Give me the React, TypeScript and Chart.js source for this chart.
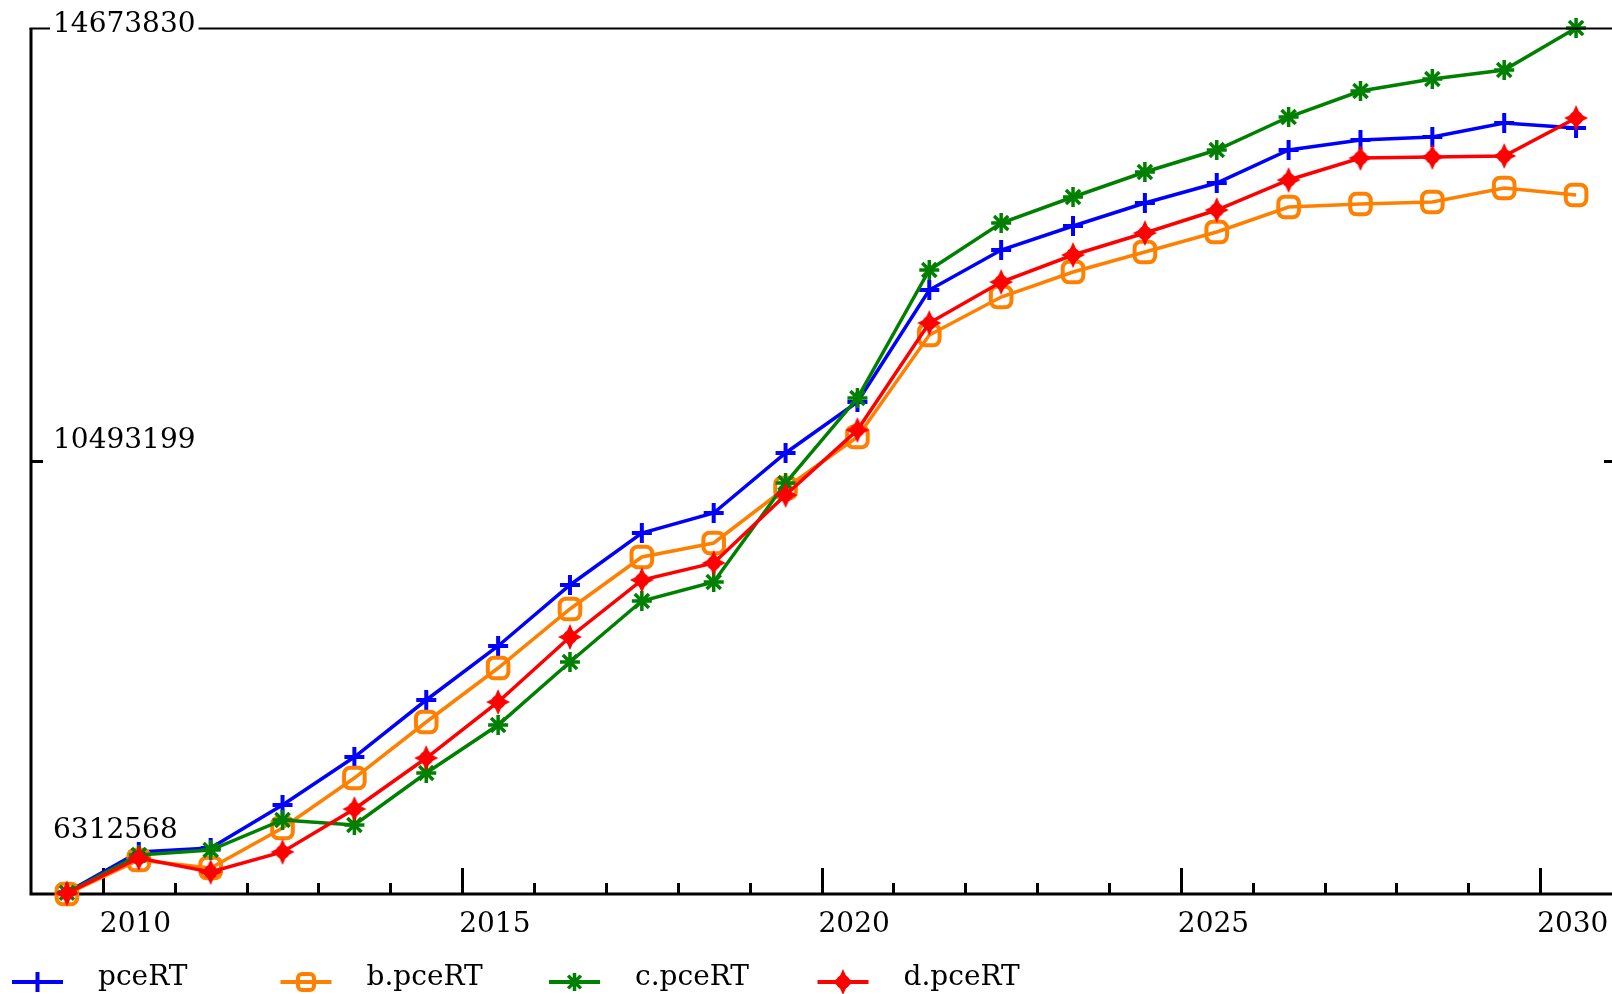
import React, { useEffect, useRef } from "react";
import { Chart, registerables } from "chart.js";

Chart.register(...registerables);

const years = [2009, 2010, 2011, 2012, 2013, 2014, 2015, 2016, 2017, 2018, 2019, 2020, 2021, 2022, 2023, 2024, 2025, 2026, 2027, 2028, 2029, 2030];

const pceRT = [6330000, 6718000, 6756700, 7171900, 7635300, 8185600, 8707000, 9296000, 9798000, 9991100, 10570400, 11062800, 12144200, 12530400, 12762100, 12984200, 13177300, 13495900, 13592400, 13621400, 13756600, 13708300];
const bPceRT = [6312568, 6640800, 6563600, 6949800, 7432500, 7973200, 8494600, 9064200, 9566300, 9701500, 10232500, 10724900, 11709700, 12076600, 12318000, 12511100, 12704200, 12945600, 12974500, 12993800, 13129000, 13061400];
const cPceRT = [6325000, 6689100, 6737400, 7027000, 6978800, 7480800, 7944300, 8552500, 9141500, 9324900, 10280800, 11101400, 12337300, 12791100, 13042100, 13283500, 13495900, 13814500, 14065500, 14181400, 14268300, 14673830];
const dPceRT = [6318000, 6660100, 6525000, 6718100, 7133200, 7625600, 8166300, 8793900, 9344200, 9508400, 10164900, 10792500, 11825600, 12221400, 12482100, 12694500, 12916600, 13206200, 13418600, 13428300, 13438000, 13804800];

const seriesNames = ["pceRT", "b.pceRT", "c.pceRT", "d.pceRT"];
const seriesColors = ["#0000ff", "#ff8000", "#008000", "#ff0000"];

const yTickValues = [6312568, 10493199, 14673830];
const yTickLabels = ["6312568", "10493199", "14673830"];
const xMajorTicks = [2010, 2015, 2020, 2025, 2030];
const xMin = 2009;
const xMax = 2031;

const FONT = '28px "DejaVu Serif"';

function makeRedMarker(): HTMLCanvasElement {
  const c = document.createElement("canvas");
  c.width = 26;
  c.height = 28;
  const g = c.getContext("2d")!;
  g.fillStyle = "#ff0000";
  g.translate(13, 14);
  g.beginPath();
  g.moveTo(0, -13);
  g.lineTo(4, -4);
  g.lineTo(12, 0);
  g.lineTo(4, 4);
  g.lineTo(0, 13);
  g.lineTo(-4, 4);
  g.lineTo(-12, 0);
  g.lineTo(-4, -4);
  g.closePath();
  g.fill();
  g.beginPath();
  g.arc(0, 0, 7, 0, Math.PI * 2);
  g.fill();
  return c;
}

function drawLegendMarker(ctx: CanvasRenderingContext2D, i: number, x: number, y: number, redImg: HTMLCanvasElement) {
  ctx.save();
  ctx.strokeStyle = seriesColors[i];
  ctx.fillStyle = seriesColors[i];
  if (i === 0) {
    ctx.lineWidth = 4;
    ctx.beginPath();
    ctx.moveTo(x - 9, y);
    ctx.lineTo(x + 9, y);
    ctx.moveTo(x, y - 10);
    ctx.lineTo(x, y + 10);
    ctx.stroke();
  } else if (i === 1) {
    ctx.lineWidth = 4;
    ctx.beginPath();
    (ctx as any).roundRect ? (ctx as any).roundRect(x - 8, y - 8, 16, 16, 4) : ctx.rect(x - 8, y - 8, 16, 16);
    ctx.stroke();
  } else if (i === 2) {
    ctx.lineWidth = 3.5;
    ctx.beginPath();
    const r = 9;
    ctx.moveTo(x - r, y);
    ctx.lineTo(x + r, y);
    ctx.moveTo(x, y - r);
    ctx.lineTo(x, y + r);
    const d = r * Math.SQRT1_2;
    ctx.moveTo(x - d, y - d);
    ctx.lineTo(x + d, y + d);
    ctx.moveTo(x - d, y + d);
    ctx.lineTo(x + d, y - d);
    ctx.stroke();
  } else {
    ctx.drawImage(redImg, x - redImg.width / 2, y - redImg.height / 2);
  }
  ctx.restore();
}

export default function App() {
  const ref = useRef<HTMLCanvasElement | null>(null);

  useEffect(() => {
    document.body.style.margin = "0";
    document.body.style.overflow = "hidden";
    const canvas = ref.current!;
    const redImg = makeRedMarker();

    const allSeries = [pceRT, bPceRT, cPceRT, dPceRT];
    const pointStyles: any[] = ["cross", "rectRounded", "star", redImg];
    const radii = [10, 12, 10, 10];
    const pbw = [4, 4, 3.5, 1];
    const orders = [4, 3, 2, 1];

    const datasets = allSeries.map((vals, i) => ({
      label: seriesNames[i],
      data: years.map((yr, k) => ({ x: yr + 0.5, y: vals[k] })),
      borderColor: seriesColors[i],
      backgroundColor: i === 1 ? "rgba(0,0,0,0)" : seriesColors[i],
      borderWidth: 3.5,
      pointStyle: pointStyles[i],
      pointRadius: radii[i],
      pointBorderWidth: pbw[i],
      pointBorderColor: seriesColors[i],
      pointBackgroundColor: i === 1 ? "rgba(0,0,0,0)" : seriesColors[i],
      tension: 0,
      clip: false as any,
      order: orders[i],
    }));

    const axesPlugin = {
      id: "customAxes",
      beforeDatasetsDraw(chart: any) {
        const ctx: CanvasRenderingContext2D = chart.ctx;
        const area = chart.chartArea;
        const xs = chart.scales.x;
        const ys = chart.scales.y;
        ctx.save();
        ctx.strokeStyle = "#000";
        ctx.lineWidth = 3;
        ctx.beginPath();
        ctx.moveTo(area.left, area.top);
        ctx.lineTo(area.left, area.bottom + 1.5);
        ctx.moveTo(area.left - 1.5, area.bottom);
        ctx.lineTo(chart.width, area.bottom);
        ctx.stroke();
        for (let yr = xMin + 1; yr < xMax; yr++) {
          const px = Math.round(xs.getPixelForValue(yr)) + 0.5;
          const major = xMajorTicks.includes(yr);
          ctx.lineWidth = 3;
          ctx.beginPath();
          ctx.moveTo(px, area.bottom);
          ctx.lineTo(px, area.bottom - (major ? 26 : 11));
          ctx.stroke();
        }
        const midY = Math.round(ys.getPixelForValue(yTickValues[1])) + 0.5;
        ctx.beginPath();
        ctx.moveTo(area.left, midY);
        ctx.lineTo(area.left + 12, midY);
        ctx.moveTo(chart.width - 8, midY);
        ctx.lineTo(chart.width, midY);
        ctx.stroke();
        ctx.restore();
      },
      afterDatasetsDraw(chart: any) {
        const ctx: CanvasRenderingContext2D = chart.ctx;
        const area = chart.chartArea;
        const xs = chart.scales.x;
        const ys = chart.scales.y;
        ctx.save();
        const topY = Math.round(ys.getPixelForValue(yTickValues[2])) + 0.5;
        ctx.strokeStyle = "#000";
        ctx.lineWidth = 2;
        ctx.beginPath();
        ctx.moveTo(area.left - 1.5, topY);
        ctx.lineTo(chart.width, topY);
        ctx.stroke();
        ctx.font = FONT;
        ctx.fillStyle = "#000";
        ctx.textBaseline = "middle";
        ctx.textAlign = "left";
        const offsets = [-63, -20, -3];
        yTickValues.forEach((v, i) => {
          const py = ys.getPixelForValue(v) + offsets[i];
          const lx = area.left + 22;
          if (i === 2) {
            const w = ctx.measureText(yTickLabels[i]).width;
            ctx.fillStyle = "#fff";
            ctx.fillRect(lx - 3, py - 14, w + 6, 28);
            ctx.fillStyle = "#000";
          }
          ctx.fillText(yTickLabels[i], lx, py);
        });
        xMajorTicks.forEach((yr) => {
          const px = xs.getPixelForValue(yr);
          ctx.fillText(String(yr), px - 3, area.bottom + 31);
        });
        const legY = area.bottom + 88;
        seriesNames.forEach((name, i) => {
          const x0 = 12 + i * 268.5;
          ctx.strokeStyle = seriesColors[i];
          ctx.lineWidth = 4;
          ctx.beginPath();
          ctx.moveTo(x0, legY);
          ctx.lineTo(x0 + 51, legY);
          ctx.stroke();
          drawLegendMarker(ctx, i, x0 + 25.5, legY, redImg);
          ctx.fillStyle = "#000";
          ctx.textBaseline = "alphabetic";
          ctx.fillText(name, x0 + 86, legY + 3);
        });
        ctx.restore();
      },
    };

    const chart = new Chart(canvas, {
      type: "line",
      data: { datasets: datasets as any },
      options: {
        responsive: false,
        animation: false,
        devicePixelRatio: 1,
        events: [],
        layout: { autoPadding: false, padding: { left: 31, top: 28, right: 0, bottom: 100 } },
        plugins: { legend: { display: false }, tooltip: { enabled: false } },
        scales: {
          x: { type: "linear", min: xMin, max: xMax, display: false },
          y: { type: "linear", min: yTickValues[0], max: yTickValues[2], display: false },
        },
      },
      plugins: [axesPlugin],
    });

    return () => chart.destroy();
  }, []);

  return (
    <div style={{ width: 1612, height: 994, background: "#fff" }}>
      <canvas ref={ref} width={1612} height={994} style={{ display: "block" }} />
    </div>
  );
}
